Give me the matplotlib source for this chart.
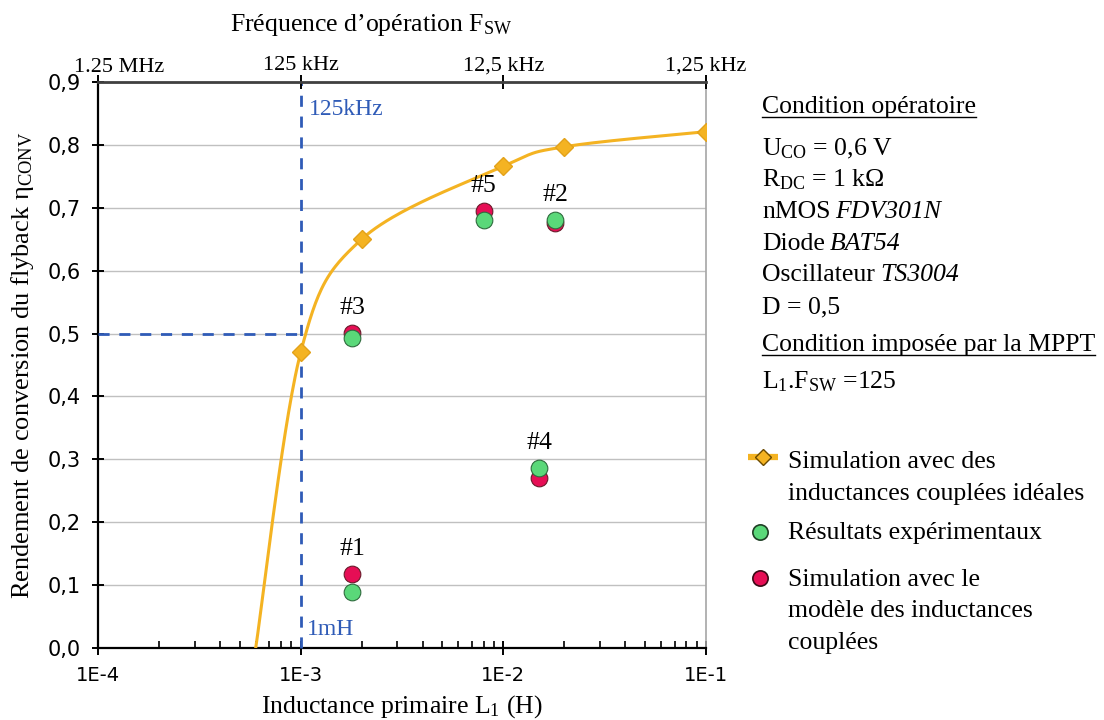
import matplotlib
matplotlib.use('Agg')
import matplotlib.pyplot as plt
import numpy as np
from matplotlib.ticker import FixedLocator, FuncFormatter, LogLocator, NullLocator
from matplotlib.transforms import blended_transform_factory

plt.rcParams['font.family'] = ['Liberation Serif', 'DejaVu Serif']
plt.rcParams['mathtext.fontset'] = 'custom'
plt.rcParams['mathtext.rm'] = 'Liberation Serif'
plt.rcParams['mathtext.it'] = 'Liberation Serif:italic'
plt.rcParams['mathtext.bf'] = 'Liberation Serif:bold'

# --- data ---
sim_L = [6e-4, 1e-3, 2e-3, 1e-2, 2e-2, 1e-1]          # inductance (H)
sim_eta = [0.0, 0.47, 0.65, 0.766, 0.797, 0.821]      # ideal coupled inductors
sim_marked = [False, True, True, True, True, True]

proto_names = ['#1', '#3', '#5', '#2', '#4']
proto_L = [1.8e-3, 1.8e-3, 8e-3, 1.8e-2, 1.5e-2]
exp_eta = [0.089, 0.493, 0.680, 0.680, 0.286]          # experimental results
model_eta = [0.118, 0.501, 0.695, 0.676, 0.270]        # coupled-inductor model

top_ticks = [1e-4, 1e-3, 1e-2, 1e-1]
top_labels = ['1.25 MHz', '125 kHz', '12,5 kHz', '1,25 kHz']

# (regular part, italic part)
conditions = [('U$_{\\mathrm{CO}}$ = 0,6 V', ''),
              ('R$_{\\mathrm{DC}}$ = 1 k\u03a9', ''),
              ('nMOS', 'FDV301N'),
              ('Diode', 'BAT54'),
              ('Oscillateur', 'TS3004'),
              ('D = 0,5', '')]

ORANGE = '#F4B322'
GREEN = '#5AD879'
RED = '#E60E55'
BLUE = '#2F5BB7'
SERIF = 18.5


def smooth_curve(xs, ys, yscale=3.1, n=50):
    """Excel-like smoothed line (cubic bezier) in log-x space"""
    pts = np.column_stack([np.log10(xs), np.array(ys) * yscale])
    out = []
    for i in range(len(pts) - 1):
        p0 = pts[max(i - 1, 0)]
        p1 = pts[i]
        p2 = pts[i + 1]
        p3 = pts[min(i + 2, len(pts) - 1)]
        c1 = p1 + (p2 - p0) / 6
        c2 = p2 - (p3 - p1) / 6
        t = np.linspace(0, 1, n)[:, None]
        seg = ((1 - t) ** 3) * p1 + 3 * ((1 - t) ** 2) * t * c1 + 3 * (1 - t) * t ** 2 * c2 + t ** 3 * p2
        out.append(seg if i == 0 else seg[1:])
    out = np.vstack(out)
    return 10 ** out[:, 0], out[:, 1] / yscale


fig = plt.figure(figsize=(11.04, 7.2), dpi=100, facecolor='white')
ax = fig.add_axes([98 / 1104, 72 / 720, 608 / 1104, 566 / 720])

ax.set_xscale('log')
ax.set_xlim(1e-4, 1e-1)
ax.set_ylim(0, 0.9)

# grid
ax.set_yticks(np.arange(0, 0.91, 0.1))
ax.yaxis.set_major_formatter(FuncFormatter(lambda v, p: f'{v:.1f}'.replace('.', ',')))
ax.grid(True, axis='y', color='#C0C0C0', linewidth=1)
ax.set_axisbelow(True)

# blue dashed guides
ax.plot([1e-3, 1e-3], [0, 0.9], color=BLUE, lw=2, dashes=(4, 3.5), zorder=3, clip_on=False)
ax.plot([1e-4, 1e-3], [0.5, 0.5], color=BLUE, lw=2, dashes=(4, 3.5), zorder=3)
ax.text(1.1e-3, 0.857, '125kHz', color=BLUE, fontsize=17, va='center', ha='left')
ax.text(1.07e-3, 0.029, '1mH', color=BLUE, fontsize=17, va='center', ha='left')

# simulation curve
cx, cy = smooth_curve(sim_L, sim_eta)
ax.plot(cx, cy, color=ORANGE, lw=2.2, zorder=4)
mx = [l for l, m in zip(sim_L, sim_marked) if m]
my = [e for e, m in zip(sim_eta, sim_marked) if m]
ax.plot(mx, my, 'D', ms=9, color=ORANGE, mec='#E3A21A', zorder=5)

# measured / model points
ax.plot(proto_L, model_eta, 'o', ms=12, color=RED, mec='#6A1A2A', mew=0.8, zorder=6, ls='none')
ax.plot(proto_L, exp_eta, 'o', ms=12, color=GREEN, mec='#2F6B3E', mew=0.8, zorder=7, ls='none')
for name, l, a, b in zip(proto_names, proto_L, exp_eta, model_eta):
    ax.text(l, max(a, b) + 0.04, name, fontsize=SERIF, ha='center', va='center', zorder=8)

# spines and ticks
for s in ['left', 'bottom']:
    ax.spines[s].set_color('black')
    ax.spines[s].set_linewidth(1.6)
ax.spines['right'].set_color('#A6A6A6')
ax.spines['right'].set_linewidth(1.2)
ax.spines['top'].set_visible(False)

ax.xaxis.set_major_locator(FixedLocator(top_ticks))
ax.xaxis.set_minor_locator(LogLocator(base=10, subs=np.arange(2, 10)))
ax.xaxis.set_major_formatter(FuncFormatter(lambda v, p: f'1E{int(round(np.log10(v)))}'))
ax.tick_params(axis='x', which='major', direction='inout', length=10, width=1.4, pad=8,
               labelsize=14, labelfontfamily='Liberation Sans Narrow')
ax.tick_params(axis='x', which='minor', direction='in', length=5, width=1.2)
ax.tick_params(axis='y', which='major', direction='inout', length=9, width=1.4, pad=8,
               labelsize=15, labelfontfamily='Liberation Sans Narrow')
ax.set_xlabel('Inductance primaire L$_1$ (H)', fontsize=SERIF, labelpad=6)
ax.set_ylabel('Rendement de conversion du flyback \u03b7$_{\\mathrm{CONV}}$', fontsize=19, labelpad=8)

# top frequency axis (L1.Fsw = 125)
ax2 = ax.twiny()
ax2.set_xscale('log')
ax2.set_xlim(ax.get_xlim())
ax2.xaxis.set_major_locator(FixedLocator(top_ticks))
ax2.xaxis.set_minor_locator(NullLocator())
ax2.set_xticklabels([''] + top_labels[1:])
ax2.tick_params(axis='x', which='major', direction='inout', length=10, width=1.4, pad=0,
                labelsize=16, colors='black')
for s in ['left', 'right', 'bottom']:
    ax2.spines[s].set_visible(False)
ax2.spines['top'].set_color('#404040')
ax2.spines['top'].set_linewidth(2)
# first top label is pushed right so it clears the 0,9 label
ax2.annotate(top_labels[0], xy=(1e-4, 1), xycoords=blended_transform_factory(ax2.transData, ax2.transAxes),
             xytext=(15, 7), textcoords='offset points', ha='center', va='baseline', fontsize=16)

# right-hand text block, title and legend in pixel coordinates
ov = fig.add_axes([0, 0, 1, 1], facecolor='none')
ov.set_xlim(0, 1104)
ov.set_ylim(720, 0)
ov.axis('off')

ov.text(371, 31, 'Fr\u00e9quence d\u2019op\u00e9ration F$_{\\mathrm{SW}}$', fontsize=SERIF,
        ha='center', va='baseline')

underlined = []
t = ov.text(762, 113, 'Condition op\u00e9ratoire', fontsize=SERIF, va='baseline')
underlined.append((t, 113))
italic_parts = []
for i, (reg, ital) in enumerate(conditions):
    y = 155 + i * 31.6
    t = ov.text(762, y, reg, fontsize=SERIF, va='baseline')
    if ital:
        italic_parts.append((t, y, ital))
t = ov.text(762, 351, 'Condition impos\u00e9e par la MPPT', fontsize=SERIF, va='baseline')
underlined.append((t, 351))
ov.text(762, 388, 'L$_1$.F$_{\\mathrm{SW}}$ =125', fontsize=SERIF, va='baseline')

# legend
ov.plot([748, 778], [457, 457], color=ORANGE, lw=4.5, solid_capstyle='butt')
ov.plot([763], [457], 'D', ms=8, color=ORANGE, mec='#6B4A00', mew=1)
ov.plot([760], [532], 'o', ms=11, color=GREEN, mec='#1F3F25', mew=1.2)
ov.plot([760], [578], 'o', ms=11, color=RED, mec='#3A0A15', mew=1.2)
legend_lines = [(468, 'Simulation avec des'), (500, 'inductances coupl\u00e9es id\u00e9ales'),
                (539, 'R\u00e9sultats exp\u00e9rimentaux'),
                (586, 'Simulation avec le'), (617, 'mod\u00e8le des inductances'), (649, 'coupl\u00e9es')]
for y, s in legend_lines:
    ov.text(788, y, s, fontsize=SERIF, va='baseline')

fig.canvas.draw()
for t, y in underlined:
    bb = t.get_window_extent()
    ov.plot([bb.x0, bb.x1], [y + 4, y + 4], color='black', lw=1)
for t, y, ital in italic_parts:
    bb = t.get_window_extent()
    ov.text(bb.x1 + 5, y, ital, fontsize=SERIF, va='baseline', style='italic')

fig.savefig('out.png', dpi=100, facecolor='white')
